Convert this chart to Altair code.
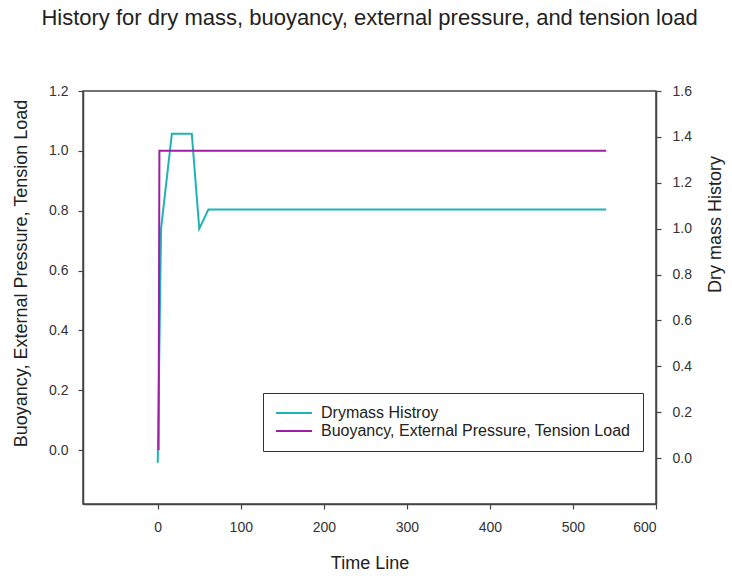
import altair as alt
import pandas as pd

# ---- data ----
time_dry = [0, 4, 17, 41, 50, 61, 540]
dry_mass = [-0.02, 1.0, 1.414, 1.414, 1.0, 1.083, 1.083]

time_load = [1, 2, 540]
load = [0.0, 1.0, 1.0]

series_names = ["Drymass Histroy", "Buoyancy, External Pressure, Tension Load"]
series_colors = ["#1FB3B5", "#9E1FA6"]

x_ticks = [0, 100, 200, 300, 400, 500, 600]
left_ticks = [0.0, 0.2, 0.4, 0.6, 0.8, 1.0, 1.2]
right_ticks = [0.0, 0.2, 0.4, 0.6, 0.8, 1.0, 1.2, 1.4, 1.6]

df_dry = pd.DataFrame({"t": time_dry, "v": dry_mass, "s": series_names[0]})
df_load = pd.DataFrame({"t": time_load, "v": load, "s": series_names[1]})

FONT = "Liberation Sans"
AX = "#444444"

common_axis = dict(
    grid=False,
    domainColor=AX,
    domainWidth=1.5,
    tickColor=AX,
    tickSize=5,
    tickWidth=1.2,
    labelFont=FONT,
    labelFontSize=14,
    labelColor="#333333",
    titleFont=FONT,
    titleFontSize=18,
    titleFontWeight="normal",
    titleColor="#222222",
)

color = alt.Color(
    "s:N",
    scale=alt.Scale(domain=series_names, range=series_colors),
    legend=alt.Legend(
        title=None,
        orient="none",
        legendX=180,
        legendY=302,
        strokeColor="#333333",
        fillColor="#ffffff",
        padding=12,
        symbolType="stroke",
        symbolSize=1296,
        symbolStrokeWidth=2,
        clipHeight=16,
        labelFontSize=16,
        labelFont=FONT,
        labelColor="#222222",
        labelOffset=8,
        rowPadding=2,
        labelLimit=500,
    ),
)

x_enc = alt.X(
    "t:Q",
    scale=alt.Scale(domain=[-90, 600], nice=False, zero=False),
    axis=alt.Axis(values=x_ticks, title="Time Line", format="d", titlePadding=20,
                  labelPadding=11, **common_axis),
)

dry_line = alt.Chart(df_dry).mark_line(strokeWidth=2).encode(
    x=x_enc,
    y=alt.Y(
        "v:Q",
        scale=alt.Scale(domain=[-0.2, 1.6], nice=False, zero=False),
        axis=alt.Axis(
            orient="right",
            values=right_ticks,
            format=".1f",
            title="Dry mass History",
            titleAngle=270,
            titleX=68,
            titleY=133,
            labelPadding=11,
            **common_axis,
        ),
    ),
    color=color,
)

load_line = alt.Chart(df_load).mark_line(strokeWidth=2).encode(
    x=x_enc,
    y=alt.Y(
        "v:Q",
        scale=alt.Scale(domain=[-0.18, 1.2], nice=False, zero=False),
        axis=alt.Axis(
            orient="left",
            values=left_ticks,
            format=".1f",
            title="Buoyancy, External Pressure, Tension Load",
            titleX=-53,
            titleY=182,
            labelPadding=10,
            **common_axis,
        ),
    ),
    color=color,
)

chart = (
    alt.layer(dry_line, load_line)
    .resolve_scale(y="independent")
    .properties(
        width=573,
        height=413,
        background="#ffffff",
        title=alt.TitleParams(
            "History for dry mass, buoyancy, external pressure, and tension load",
            font=FONT,
            fontSize=22,
            fontWeight="normal",
            color="#222222",
            anchor="middle",
            offset=54,
        ),
        autosize=alt.AutoSizeParams(type="none"),
        padding={"left": 83, "top": 91, "right": 76, "bottom": 72},
    )
    .configure_view(stroke=AX, strokeWidth=1.5)
)

chart.save("out.html", embed_options={"renderer": "svg", "actions": False})
